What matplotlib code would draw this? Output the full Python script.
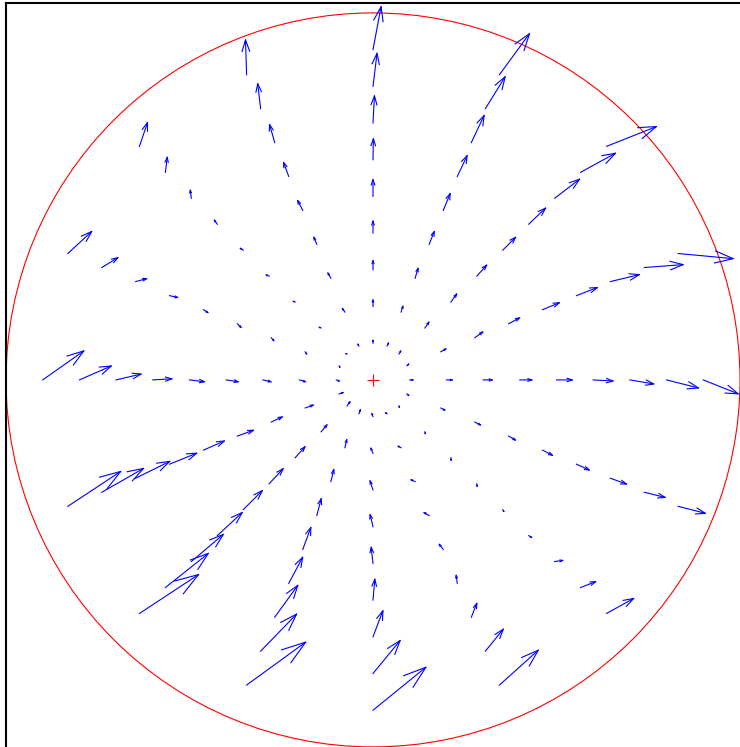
import numpy as np
import matplotlib
matplotlib.use("Agg")
import matplotlib.pyplot as plt
from matplotlib.patches import Circle

# grid: rings and rays
radii = [1, 2, 3, 4, 5, 6, 7, 8, 9]
angles_deg = [0, 22.5, 45, 67.5, 90, 112.5, 135, 157.5,
              180, 202.5, 225, 247.5, 270, 292.5, 315, 337.5]
circle_radius = 10

# vector components, one row per ray (inner ring -> outer ring)
U = [
    [0.09, 0.16, 0.25, 0.33, 0.43, 0.54, 0.65, 0.87, 0.95],
    [0.05, 0.14, 0.22, 0.30, 0.46, 0.57, 0.79, 1.06, 1.50],
    [0.05, 0.11, 0.16, 0.27, 0.35, 0.46, 0.68, 0.95, 1.36],
    [0.04, 0.05, 0.08, 0.14, 0.19, 0.27, 0.35, 0.54, 0.82],
    [0.00, 0.00, 0.00, 0.00, 0.00, 0.01, 0.04, 0.11, 0.22],
    [-0.03, -0.07, -0.08, -0.08, -0.14, -0.14, -0.14, -0.08, -0.03],
    [-0.03, -0.05, -0.05, -0.08, -0.08, -0.08, -0.03, 0.05, 0.22],
    [0.02, 0.04, 0.07, 0.10, 0.12, 0.22, 0.30, 0.44, 0.65],
    [0.08, 0.16, 0.22, 0.33, 0.41, 0.52, 0.68, 0.87, 1.12],
    [0.11, 0.22, 0.30, 0.44, 0.57, 0.74, 0.93, 1.14, 1.44],
    [0.08, 0.16, 0.27, 0.38, 0.52, 0.68, 0.87, 1.17, 1.61],
    [0.04, 0.05, 0.08, 0.12, 0.22, 0.38, 0.63, 0.98, 1.61],
    [-0.03, -0.06, -0.08, -0.08, -0.05, 0.05, 0.27, 0.74, 1.44],
    [-0.04, -0.08, -0.11, -0.14, -0.11, -0.03, 0.15, 0.49, 1.06],
    [0.01, 0.01, 0.01, 0.01, 0.03, 0.08, 0.22, 0.41, 0.74],
    [0.05, 0.11, 0.16, 0.19, 0.27, 0.35, 0.44, 0.57, 0.74],
]
V = [
    [0.00, 0.00, 0.00, 0.00, 0.00, -0.03, -0.11, -0.22, -0.38],
    [0.05, 0.08, 0.16, 0.16, 0.19, 0.22, 0.19, 0.08, -0.14],
    [0.08, 0.16, 0.22, 0.30, 0.35, 0.44, 0.52, 0.52, 0.54],
    [0.08, 0.16, 0.27, 0.35, 0.46, 0.57, 0.74, 0.87, 1.12],
    [0.08, 0.18, 0.25, 0.33, 0.46, 0.57, 0.74, 0.90, 1.17],
    [0.05, 0.10, 0.14, 0.19, 0.27, 0.38, 0.49, 0.68, 0.95],
    [0.01, 0.02, 0.02, 0.03, 0.05, 0.11, 0.22, 0.41, 0.65],
    [-0.04, -0.06, -0.08, -0.10, -0.08, -0.05, 0.08, 0.27, 0.60],
    [-0.03, -0.05, -0.05, -0.05, -0.05, 0.03, 0.16, 0.38, 0.79],
    [0.04, 0.08, 0.14, 0.16, 0.25, 0.30, 0.46, 0.65, 0.95],
    [0.11, 0.19, 0.30, 0.41, 0.52, 0.63, 0.74, 0.93, 1.06],
    [0.11, 0.22, 0.33, 0.46, 0.60, 0.71, 0.87, 1.01, 1.17],
    [0.08, 0.14, 0.25, 0.33, 0.44, 0.57, 0.71, 0.90, 1.17],
    [0.03, 0.04, 0.05, 0.08, 0.14, 0.22, 0.38, 0.60, 0.95],
    [-0.04, -0.05, -0.07, -0.07, -0.05, -0.05, 0.03, 0.16, 0.41],
    [-0.04, -0.06, -0.08, -0.11, -0.14, -0.16, -0.16, -0.14, -0.19],
]

th = np.deg2rad(np.array(angles_deg))[:, None]
r = np.array(radii)[None, :]
x = (r * np.cos(th)).ravel()
y = (r * np.sin(th)).ravel()
u = np.array(U).ravel()
v = np.array(V).ravel()

# open V heads like matlab quiver
alpha, beta = 0.33, 0.33
nan = np.full_like(x, np.nan)
sx = np.column_stack([x, x + u, nan]).ravel()
sy = np.column_stack([y, y + v, nan]).ravel()
hx = np.column_stack([x + u - alpha * (u + beta * v), x + u,
                      x + u - alpha * (u - beta * v), nan]).ravel()
hy = np.column_stack([y + v - alpha * (v - beta * u), y + v,
                      y + v - alpha * (v + beta * u), nan]).ravel()

W, H = 740, 747
px = 36.7
xlim = (-10.0, 10.3)
ylim = (-10.3, 10.27)
fig = plt.figure(figsize=(W / 100, H / 100), dpi=100)
aw = (xlim[1] - xlim[0]) * px
ah = (ylim[1] - ylim[0]) * px
ax = fig.add_axes([6 / W, (H - 3 - ah) / H, aw / W, ah / H])

ax.add_patch(Circle((0, 0), circle_radius, fill=False, color="red", lw=0.8))
ax.plot(sx, sy, color="blue", lw=0.8)
ax.plot(hx, hy, color="blue", lw=0.8)
ax.plot([0], [0], "+", color="red", ms=9, mew=0.8)

ax.set_xlim(xlim)
ax.set_ylim(ylim)
ax.set_xticks([])
ax.set_yticks([])
for side in ["left", "top"]:
    ax.spines[side].set_linewidth(1.5)
ax.spines["right"].set_visible(False)
ax.spines["bottom"].set_visible(False)

fig.savefig("out.png", dpi=100)
